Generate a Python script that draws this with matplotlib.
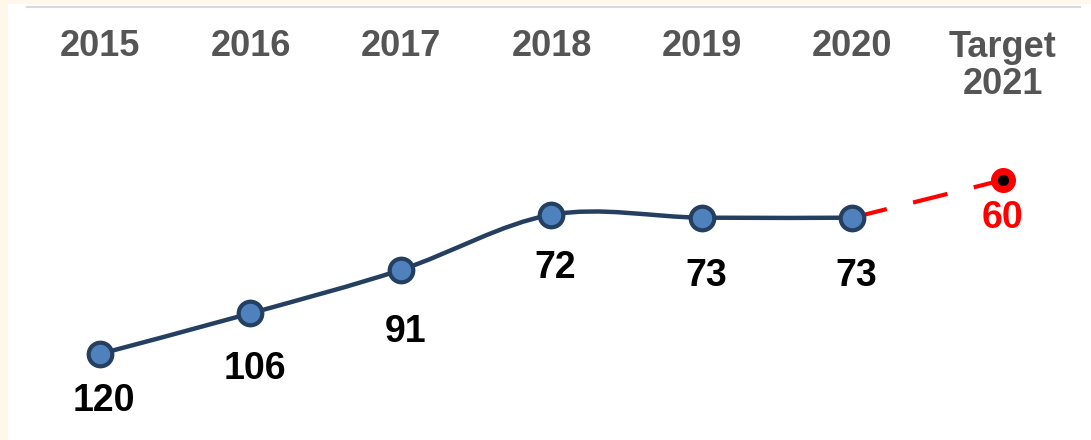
import matplotlib
matplotlib.use('Agg')
import matplotlib.pyplot as plt
from matplotlib.path import Path
from matplotlib.patches import PathPatch, Rectangle
from matplotlib.lines import Line2D
import numpy as np

plt.rcParams['font.family'] = ['Liberation Sans', 'DejaVu Sans']

# data
years = ['2015', '2016', '2017', '2018', '2019', '2020']
values = [120, 106, 91, 72, 73, 73]
target_label = 'Target\n2021'
target_value = 60

# label offsets below each point (points)
label_drop = [34, 40, 45, 38, 42, 42]

navy = '#243f60'
blue = '#4f81bd'

fig = plt.figure(figsize=(10.91, 4.40), dpi=100)
fig.patch.set_facecolor('#fff8ea')
fig.add_artist(Rectangle((8 / 1091, 0), 1, 1 - 4 / 440, transform=fig.transFigure,
                         facecolor='white', edgecolor='none', zorder=-10))
fig.add_artist(Line2D([27 / 1091, 1080 / 1091], [1 - 7 / 440, 1 - 7 / 440],
                      transform=fig.transFigure, color='#d9d9d9', lw=1.5, zorder=-5))

ax = fig.add_axes([0, 0, 1, 1])
ax.set_facecolor('none')
ax.axis('off')
ax.set_xlim(-0.664, 6.585)
ax.set_ylim(149.7, -2.1)

x = np.arange(len(values))

# smoothed line (Catmull-Rom through the points)
pts = np.column_stack([x, values]).astype(float)
ext = np.vstack([pts[0], pts, pts[-1]])
verts = [tuple(pts[0])]
codes = [Path.MOVETO]
for i in range(len(pts) - 1):
    p0, p1, p2, p3 = ext[i], ext[i + 1], ext[i + 2], ext[i + 3]
    c1 = p1 + (p2 - p0) / 6
    c2 = p2 - (p3 - p1) / 6
    verts += [tuple(c1), tuple(c2), tuple(p2)]
    codes += [Path.CURVE4] * 3
ax.add_patch(PathPatch(Path(verts, codes), facecolor='none', edgecolor=navy, lw=3.2, zorder=2))

# target dashed segment
ax.plot([x[-1], len(values)], [values[-1], target_value], color='red', lw=3,
        dashes=(8.5, 6.5), dash_capstyle='butt', zorder=1)

ax.plot(x, values, 'o', ms=17, mfc=blue, mec=navy, mew=3, zorder=3)
ax.plot(len(values), target_value, 'o', ms=17, mfc='red', mec='red', zorder=3)
ax.plot(len(values), target_value, 'o', ms=7, mfc='black', mec='black', zorder=4)

for xi, v, d in zip(x, values, label_drop):
    ax.annotate(str(v), (xi, v), xytext=(3, -d), textcoords='offset points',
                ha='center', va='center', fontsize=27, fontweight='bold', color='black')
ax.annotate(str(target_value), (len(values), target_value), xytext=(0, -27),
            textcoords='offset points', ha='center', va='center', fontsize=27,
            fontweight='bold', color='red')

trans = ax.get_xaxis_transform()
for xi, yr in zip(x, years):
    ax.text(xi, 1 - 46 / 440, yr, transform=trans, ha='center', va='center',
            fontsize=26, fontweight='bold', color='#555555')
ax.text(len(values), 1 - 66 / 440, target_label, transform=trans, ha='center', va='center',
        fontsize=26, fontweight='bold', color='#555555', linespacing=1.1)

fig.savefig('out.png', dpi=100, facecolor=fig.get_facecolor())
